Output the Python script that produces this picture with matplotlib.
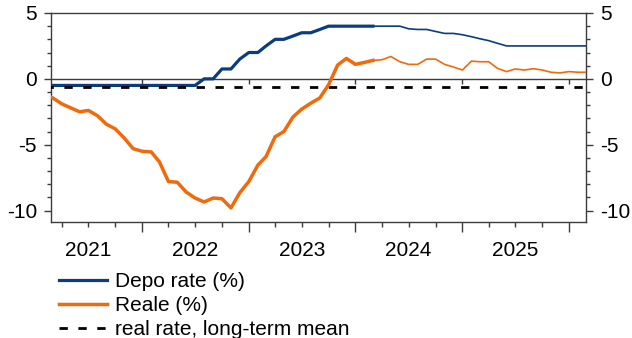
import matplotlib
matplotlib.use("Agg")
import matplotlib.pyplot as plt
import matplotlib.dates as mdates
import matplotlib.ticker as mticker
import pandas as pd

plt.rcParams['font.family'] = ['Liberation Sans', 'DejaVu Sans']

# monthly data, Feb 2021 - Mar 2026
months = pd.date_range('2021-02-01', '2026-03-01', freq='MS')
last_actual = pd.Timestamp('2024-03-01')

depo = [
    -0.5, -0.5, -0.5, -0.5, -0.5, -0.5, -0.5, -0.5, -0.5, -0.5, -0.5,
    -0.5, -0.5, -0.5, -0.5, -0.5, -0.5, -0.5, 0.0, 0.0, 0.75, 0.75, 1.5,
    2.0, 2.0, 2.5, 3.0, 3.0, 3.25, 3.5, 3.5, 3.75, 4.0, 4.0, 4.0,
    4.0, 4.0, 4.0, 4.0, 4.0, 4.0, 3.8, 3.75, 3.75, 3.6, 3.45, 3.45,
    3.35, 3.2, 3.05, 2.9, 2.7, 2.5, 2.5, 2.5, 2.5, 2.5, 2.5, 2.5,
    2.5, 2.5, 2.5,
]
reale = [
    -1.2, -1.45, -1.9, -2.2, -2.5, -2.4, -2.8, -3.45, -3.8, -4.5, -5.3,
    -5.5, -5.55, -6.3, -7.8, -7.85, -8.6, -9.05, -9.35, -9.05, -9.1, -9.8, -8.65,
    -7.8, -6.55, -5.9, -4.4, -4.0, -2.9, -2.3, -1.85, -1.45, -0.45, 1.05, 1.55,
    1.1, 1.25, 1.4, 1.45, 1.7, 1.3, 1.1, 1.1, 1.5, 1.5, 1.1, 0.9,
    0.67, 1.35, 1.3, 1.3, 0.8, 0.55, 0.75, 0.67, 0.77, 0.67, 0.5, 0.45,
    0.55, 0.5, 0.5,
]
real_rate_mean = -0.65

df = pd.DataFrame({'depo': depo, 'reale': reale}, index=months)
hist = df[df.index <= last_actual]
fcst = df[df.index >= last_actual]

blue = '#0a3d7e'
orange = '#f06a0c'
grey = '#3c3c3c'
fs = 15

fig = plt.figure(figsize=(6.32, 3.38), dpi=100)
ax = fig.add_axes([51/632, 1 - 222/338, 535/632, 209/338])

ax.plot(hist.index, hist['depo'], color=blue, lw=2.3, label='Depo rate (%)', zorder=3)
ax.plot(fcst.index, fcst['depo'], color=blue, lw=1.2, zorder=3)
ax.plot(months, [real_rate_mean] * len(months), color='black', lw=2, ls=(0, (3.0, 3.8)),
        label='real rate, long-term mean', zorder=4)
ax.plot(hist.index, hist['reale'], color=orange, lw=2.5, label='Reale (%)', zorder=5)
ax.plot(fcst.index, fcst['reale'], color=orange, lw=1.2, zorder=5)

ax.set_xlim(pd.Timestamp('2021-02-23'), pd.Timestamp('2026-02-28'))
ax.set_ylim(-10.87, 5)

for s in ax.spines.values():
    s.set_color(grey)
    s.set_linewidth(1)

# x axis: year ticks, quarterly minor ticks, labels mid-year
ax.xaxis.set_major_locator(mdates.YearLocator())
ax.xaxis.set_major_formatter(mticker.NullFormatter())
ax.xaxis.set_minor_locator(mdates.MonthLocator(bymonth=[1, 4, 7, 10]))
ax.xaxis.set_minor_formatter(mticker.FuncFormatter(
    lambda v, p: str(mdates.num2date(v).year) if mdates.num2date(v).month == 7 else ''))
ax.tick_params(axis='x', which='major', length=7, width=1, color=grey)
ax.tick_params(axis='x', which='minor', length=3.5, width=1, color=grey, pad=10, labelsize=fs)

# y axis both sides
ax.yaxis.set_major_locator(mticker.MultipleLocator(5))
ax.yaxis.set_minor_locator(mticker.MultipleLocator(1))
ax.yaxis.set_major_formatter(mticker.FormatStrFormatter('%d'))
ax.tick_params(axis='y', which='both', left=True, right=True, labelleft=True, labelright=True,
               color=grey, width=1, labelsize=fs)
ax.tick_params(axis='y', which='major', length=5, pad=5)
ax.tick_params(axis='y', which='minor', length=3)

# zero line with year ticks hanging below it
ylo, yhi = ax.get_ylim()
zero_ax = ax.secondary_xaxis((0 - ylo) / (yhi - ylo))
zero_ax.xaxis.set_major_locator(mdates.YearLocator())
zero_ax.xaxis.set_ticks_position('bottom')
zero_ax.tick_params(axis='x', which='major', direction='out', length=3.5, width=1, color=grey,
                    labelbottom=False, labeltop=False)
zero_ax.xaxis.set_minor_locator(mticker.NullLocator())
for s in zero_ax.spines.values():
    s.set_color(grey)
    s.set_linewidth(1)

handles, labels = ax.get_legend_handles_labels()
order = [0, 2, 1]
fig.legend([handles[i] for i in order], [labels[i] for i in order],
           loc='upper left', bbox_to_anchor=(59/632, 1 - 272/338), frameon=False,
           fontsize=fs, borderpad=0, borderaxespad=0, handlelength=2.3,
           handletextpad=0.4, labelspacing=0.24)

fig.savefig('out.png', dpi=100)
